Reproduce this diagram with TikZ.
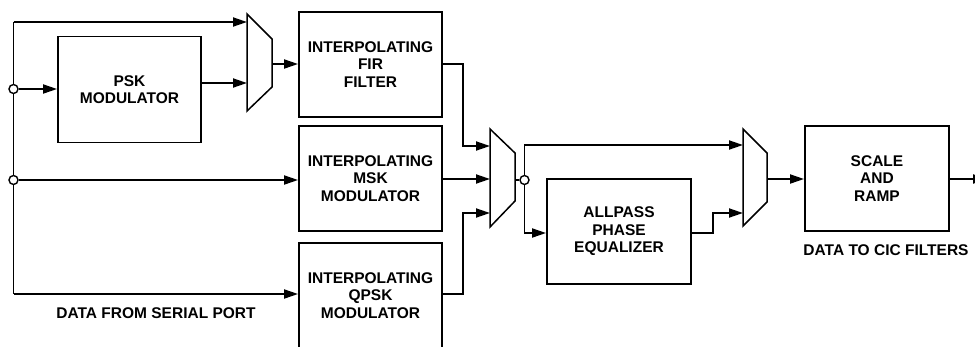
\documentclass[tikz,border=0pt]{standalone}
\usepackage{fontspec}
\setmainfont{Liberation Sans}
\usetikzlibrary{arrows.meta,calc}
\begin{document}
\begin{tikzpicture}[x=1pt,y=-1pt,
  line/.style={line width=1.9pt},
  arr/.style={line width=1.9pt,-{Triangle[length=14pt,width=9pt]}},
  blk/.style={draw,line width=1.9pt,minimum width=143pt,align=center,
    font=\fontsize{15.5}{17.5}\selectfont\bfseries,inner sep=0pt},
  muxs/.style={draw,line width=1.5pt,line join=miter},
  dot/.style={circle,draw,line width=1.4pt,fill=white,inner sep=0pt,minimum size=9pt},
  lbl/.style={font=\fontsize{15.5}{17.5}\selectfont\bfseries,inner sep=0pt}]
\useasboundingbox (0,0) rectangle (975,346);
\clip (0,0) rectangle (975,346);
% boxes
\node[blk,minimum height=106pt] (psk) at (129.5,89.5) {PSK\\MODULATOR};
\node[blk,minimum height=105pt] (fir) at (370.5,64.5) {INTERPOLATING\\FIR\\FILTER};
\node[blk,minimum height=105pt] (msk) at (370.5,178.5) {INTERPOLATING\\MSK\\MODULATOR};
\node[blk,minimum height=105pt] (qpsk) at (370.5,295.5) {INTERPOLATING\\QPSK\\MODULATOR};
\node[blk,minimum width=144pt,minimum height=105pt] (ap) at (619,231.5) {ALLPASS\\PHASE\\EQUALIZER};
\node[blk,minimum width=144pt,minimum height=105pt] (sc) at (877,178.5) {SCALE\\AND\\RAMP};
% muxes
\draw[muxs] (247,14) -- (272,39) -- (272,87) -- (247,111) -- cycle;
\draw[muxs] (490,129) -- (515,153) -- (515,201) -- (490,227) -- cycle;
\draw[muxs] (743,129) -- (767,153) -- (767,202) -- (743,226) -- cycle;
\coordinate (m1a) at (247,22);
\coordinate (m1b) at (247,83);
\coordinate (m1o) at (272,64);
\coordinate (m2a) at (490,146);
\coordinate (m2b) at (490,179);
\coordinate (m2c) at (490,213);
\coordinate (m2o) at (515,180);
\coordinate (m3a) at (743,145);
\coordinate (m3b) at (743,213);
\coordinate (m3o) at (767,179);
\coordinate (tl) at (13.5,22);
\coordinate (bl) at (13.5,294);
\coordinate (out) at (987,179);
% left bus
\draw[line] (tl) -- (bl);
\draw[arr] (tl) -- (m1a);
\draw[arr] (bl) -- (bl -| qpsk.west);
\node[dot] (c1) at (13.5,89) {};
\node[dot] (c2) at (13.5,180) {};
\draw[arr] (c1) -- (c1 -| psk.west);
\draw[arr] (c2) -- (c2 -| msk.west);
% mux1
\draw[arr] (psk.east |- m1b) -- (m1b);
\draw[arr] (m1o) -- (m1o -| fir.west);
% to mux2
\draw[arr] (fir.east |- m1o) -- ++(20,0) |- (m2a);
\draw[arr] (msk.east |- m2b) -- (m2b);
\draw[arr] (qpsk.east |- bl) -- ++(20,0) |- (m2c);
% mux2 out
\node[dot] (c3) at (524.5,180) {};
\draw[line] (m2o) -- (c3);
\draw[arr] (c3) |- (m3a);
\draw[arr] (c3) -- (524.5,233) -- (ap.west |- 0,233);
\draw[arr] (ap.east |- 0,233) -- (713,233) |- (m3b);
\draw[arr] (m3o) -- (m3o -| sc.west);
\draw[arr] (sc.east |- out) -- (out);
% labels
\node[lbl] (l1) at (156,313) {DATA FROM SERIAL PORT};
\node[lbl] (l2) at (886,250) {DATA TO CIC FILTERS};
\end{tikzpicture}
\end{document}
